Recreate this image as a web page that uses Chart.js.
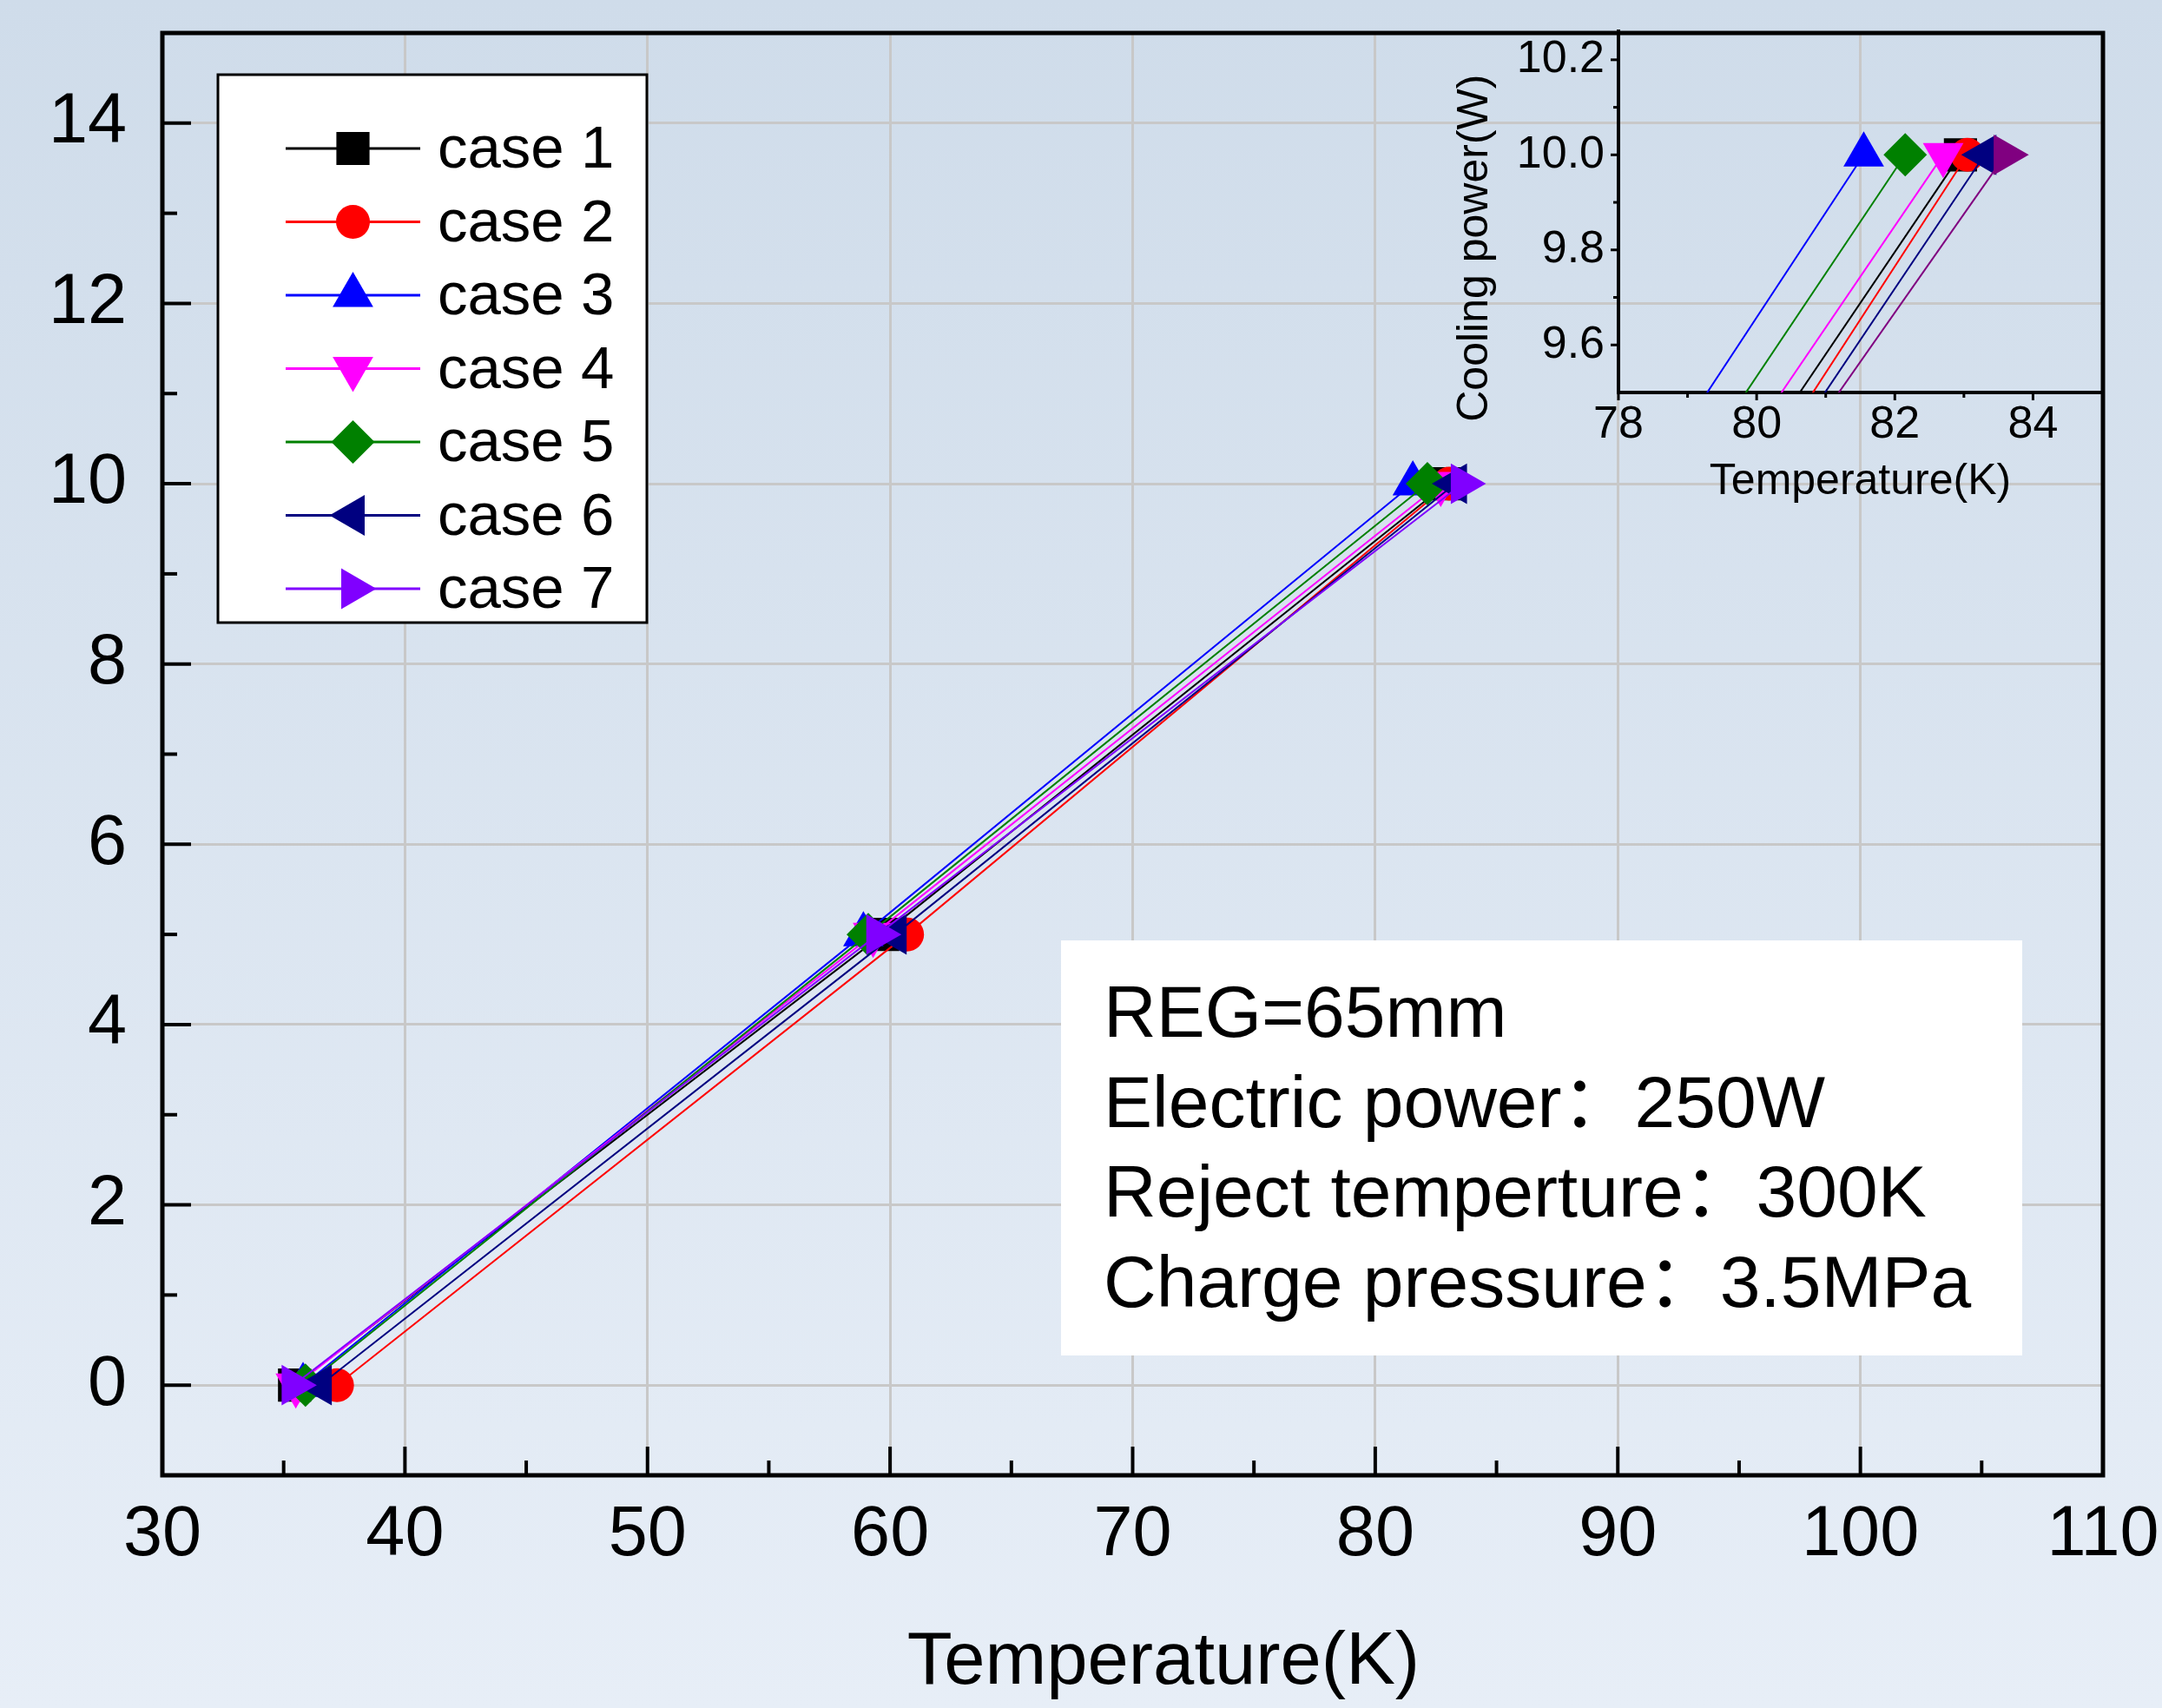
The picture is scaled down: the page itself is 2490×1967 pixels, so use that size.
<!DOCTYPE html>
<html>
<head>
<meta charset="utf-8">
<script src="https://cdn.jsdelivr.net/npm/chart.js@4.4.1/dist/chart.umd.min.js"></script>
<style>
  html, body { margin: 0; padding: 0; }
  body {
    width: 2490px; height: 1967px; position: relative; overflow: hidden;
    background: linear-gradient(#cfdcea, #e7eef7);
  }
  #main { position: absolute; left: 0; top: 0; }
  #inset { position: absolute; left: 1640px; top: 0; }
  #note {
    position: absolute; left: 1222px; top: 1083px; width: 1107px; height: 478px;
    box-sizing: border-box; padding: 31px 0 0 49px; background: #fff; color: #000;
    font-family: 'Liberation Sans', 'Noto Sans CJK SC', sans-serif;
    font-size: 84px; line-height: 103.5px; white-space: pre;
  }
</style>
</head>
<body>
<canvas id="main" width="2490" height="1967"></canvas>
<canvas id="inset" width="850" height="600"></canvas>
<div id="note"></div>
<script>
// data
const caseNames = ['case 1', 'case 2', 'case 3', 'case 4', 'case 5', 'case 6', 'case 7'];
const coolingPower = [0, 5, 10];
const case1Temp = [35.45, 59.7, 82.95];
const case2Temp = [37.2, 60.7, 83.05];
const case3Temp = [35.8, 58.9, 81.55];
const case4Temp = [35.5, 59.3, 82.7];
const case5Temp = [35.9, 59.1, 82.15];
const case6Temp = [36.5, 60.2, 83.3];
const case7Temp = [35.4, 59.5, 83.6];
const caseTemps = [case1Temp, case2Temp, case3Temp, case4Temp, case5Temp, case6Temp, case7Temp];

const mainXTicks = [30, 40, 50, 60, 70, 80, 90, 100, 110];
const mainYTicks = [0, 2, 4, 6, 8, 10, 12, 14];
const insetXTicks = [78, 80, 82, 84];
const insetYTicks = [9.6, 9.8, 10.0, 10.2];
const noteLines = ['REG=65mm', 'Electric power：250W', 'Reject temperture：300K', 'Charge pressure：3.5MPa'];

// styles
const caseColors = ['#000000', '#ff0000', '#0000ff', '#ff00ff', '#008000', '#000080', '#8000ff'];
const insetColors = ['#000000', '#ff0000', '#0000ff', '#ff00ff', '#008000', '#000080', '#800080'];
const pointStyles = ['rect', 'circle', 'triangle', 'triangle', 'rectRot', 'triangle', 'triangle'];
const pointRotations = [0, 0, 0, 180, 0, -90, 90];
const pointSizes = [27, 19.5, 27, 27, 25, 27, 27];

const family = "'Liberation Sans', Arial, sans-serif";

document.getElementById('note').textContent = noteLines.join('\n');

function buildSets(colors, clip) {
  return caseTemps.map((temps, i) => ({
    label: caseNames[i],
    data: temps.map((t, j) => ({x: t, y: coolingPower[j]})),
    showLine: true,
    borderColor: colors[i],
    backgroundColor: colors[i],
    pointBackgroundColor: colors[i],
    pointBorderWidth: 0,
    pointStyle: pointStyles[i],
    pointRotation: pointRotations[i],
    pointRadius: pointSizes[i],
    borderWidth: 2,
    order: caseNames.length - i,
    clip: clip
  }));
}

// tick marks (major + minor) and optional frame, drawn from the scales
const frameTicks = {
  id: 'frameTicks',
  afterDraw(chart, args, o) {
    const {ctx, chartArea: a} = chart;
    ctx.save();
    ctx.strokeStyle = '#000';
    ctx.lineWidth = o.tickWidth;
    o.axes.forEach(ax => {
      const s = chart.scales[ax.id];
      const vals = s.ticks.map(t => t.value);
      const minor = [];
      for (let i = 1; i < vals.length; i++) minor.push((vals[i - 1] + vals[i]) / 2);
      const mark = (v, len) => {
        const p = s.getPixelForValue(v);
        ctx.beginPath();
        if (s.isHorizontal()) {
          ctx.moveTo(p, a.bottom);
          ctx.lineTo(p, a.bottom + ax.dir * len);
        } else {
          ctx.moveTo(a.left, p);
          ctx.lineTo(a.left - ax.dir * len, p);
        }
        ctx.stroke();
      };
      vals.forEach(v => mark(v, o.major));
      minor.forEach(v => mark(v, o.minor));
    });
    if (o.frame) {
      ctx.lineWidth = o.frame;
      ctx.strokeRect(a.left, a.top, a.width, a.height);
    }
    ctx.restore();
  }
};

// legend box with line + marker samples
const boxLegend = {
  id: 'boxLegend',
  afterDraw(chart, args, o) {
    const {ctx, chartArea: a} = chart;
    const x0 = a.left + o.left, y0 = a.top + o.top;
    ctx.save();
    ctx.fillStyle = '#fff';
    ctx.fillRect(x0, y0, o.width, o.height);
    ctx.lineWidth = 3;
    ctx.strokeStyle = '#000';
    ctx.strokeRect(x0, y0, o.width, o.height);
    ctx.font = o.font;
    ctx.textBaseline = 'middle';
    chart.data.datasets.forEach((ds, i) => {
      const y = y0 + o.firstRow + i * o.rowGap;
      ctx.strokeStyle = ds.borderColor;
      ctx.lineWidth = 3;
      ctx.beginPath();
      ctx.moveTo(x0 + o.lineStart, y);
      ctx.lineTo(x0 + o.lineEnd, y);
      ctx.stroke();
      ctx.fillStyle = ds.pointBackgroundColor;
      Chart.helpers.drawPoint(ctx, {
        pointStyle: ds.pointStyle, rotation: ds.pointRotation,
        radius: ds.pointRadius, borderWidth: 0
      }, x0 + (o.lineStart + o.lineEnd) / 2, y);
      ctx.fillStyle = '#000';
      ctx.fillText(ds.label, x0 + o.textX, y + o.textDy);
    });
    ctx.restore();
  }
};

new Chart(document.getElementById('main'), {
  type: 'scatter',
  data: {datasets: buildSets(caseColors, undefined)},
  plugins: [frameTicks, boxLegend],
  options: {
    responsive: false,
    animation: false,
    layout: {padding: {top: 38, right: 68, left: 0, bottom: 0}},
    scales: {
      x: {
        type: 'linear', min: 30, max: 110,
        afterBuildTicks: s => { s.ticks = mainXTicks.map(v => ({value: v})); },
        afterFit: s => { s.height = 268; s.paddingLeft = 0; s.paddingRight = 0; },
        grid: {color: '#c8c8c8', lineWidth: 3, drawTicks: false},
        border: {display: false},
        ticks: {autoSkip: false, maxRotation: 0, padding: 21, color: '#000', font: {size: 81, family}},
        title: {display: true, text: '   Temperature(K)', color: '#000', font: {size: 85, family}, padding: {top: 0, bottom: 0}}
      },
      y: {
        type: 'linear', min: -1, max: 15,
        afterBuildTicks: s => { s.ticks = mainYTicks.map(v => ({value: v})); },
        afterFit: s => { s.width = 187; s.paddingTop = 0; s.paddingBottom = 0; },
        grid: {color: '#c8c8c8', lineWidth: 3, drawTicks: false},
        border: {display: false},
        ticks: {autoSkip: false, padding: 41, color: '#000', font: {size: 81, family}}
      }
    },
    plugins: {
      legend: {display: false},
      tooltip: {enabled: false},
      frameTicks: {
        axes: [{id: 'x', dir: -1}, {id: 'y', dir: -1}],
        major: 33, minor: 17, tickWidth: 4, frame: 5
      },
      boxLegend: {
        left: 64, top: 48, width: 494, height: 631,
        firstRow: 85, rowGap: 84.5, lineStart: 78, lineEnd: 233, textX: 253, textDy: 3,
        font: '69px ' + family
      }
    }
  }
});

new Chart(document.getElementById('inset'), {
  type: 'scatter',
  data: {datasets: buildSets(insetColors, 0)},
  plugins: [frameTicks],
  options: {
    responsive: false,
    animation: false,
    layout: {padding: {top: 36, right: 69, left: 0, bottom: 0}},
    scales: {
      x: {
        type: 'linear', min: 78, max: 85,
        afterBuildTicks: s => { s.ticks = insetXTicks.map(v => ({value: v})); },
        afterFit: s => { s.height = 148; s.paddingLeft = 0; s.paddingRight = 0; },
        grid: {display: false, drawTicks: false},
        border: {display: true, color: '#000', width: 4},
        ticks: {autoSkip: false, maxRotation: 0, padding: 6, color: '#000', font: {size: 52, family}},
        title: {display: true, text: 'Temperature(K)', color: '#000', font: {size: 50, family}, padding: {top: 0, bottom: 15}}
      },
      y: {
        type: 'linear', min: 9.5, max: 10.26,
        afterBuildTicks: s => { s.ticks = insetYTicks.map(v => ({value: v})); },
        afterFit: s => { s.width = 224; s.paddingTop = 0; s.paddingBottom = 0; },
        grid: {display: false, drawTicks: false},
        border: {display: true, color: '#000', width: 4},
        ticks: {autoSkip: false, padding: 16, color: '#000', font: {size: 52, family}, callback: v => v.toFixed(1)},
        title: {display: true, text: 'Cooling power(W)      ', color: '#000', font: {size: 50, family}, padding: {top: 29, bottom: 0}}
      }
    },
    plugins: {
      legend: {display: false},
      tooltip: {enabled: false},
      frameTicks: {
        axes: [{id: 'x', dir: 1}, {id: 'y', dir: 1}],
        major: 9, minor: 6, tickWidth: 3, frame: 0
      }
    }
  }
});
</script>
</body>
</html>
